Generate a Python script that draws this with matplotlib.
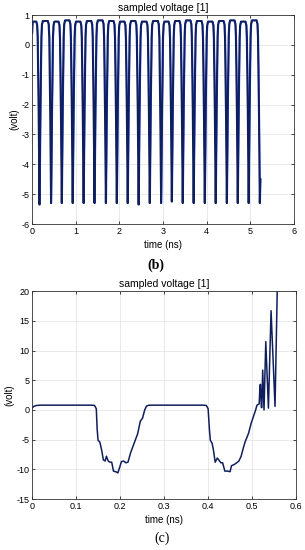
import numpy as np
import matplotlib.pyplot as plt

# (b) square-ish pulse train: times of the downward spikes (ns) and their minima (volt)
spike_t = [0.17, 0.435, 0.68, 0.93, 1.18, 1.43, 1.69, 1.94, 2.19, 2.44, 2.695,
           2.955, 3.20, 3.45, 3.70, 3.955, 4.205, 4.46, 4.71, 4.96, 5.215]
spike_v = [-5.35, -5.3, -5.3, -5.3, -5.3, -5.3, -5.3, -5.3, -5.3, -5.35, -5.3,
           -5.3, -5.25, -5.3, -5.3, -5.3, -5.3, -5.3, -5.3, -5.3, -5.3]
top_v = [0.78, 0.8, 0.78, 0.82, 0.78, 0.8, 0.82, 0.8, 0.78, 0.8, 0.78,
         0.8, 0.78, 0.8, 0.82, 0.8, 0.78, 0.8, 0.82, 0.78, 0.82, 0.8]
# shape of one dip: (offset from spike in ns, volt)
dip_dt = [-0.075, -0.055, -0.042, -0.02, 0.0, 0.02, 0.042, 0.055, 0.075]
dip_dv = [0.0, -0.12, -0.55, -3.0, None, -3.0, -0.55, -0.12, 0.0]

# (c) zoomed sampled voltage
t_c = [0.0, 0.004, 0.01, 0.02, 0.135, 0.142, 0.146, 0.148, 0.150, 0.154, 0.158,
       0.162, 0.166, 0.169, 0.173, 0.177, 0.181, 0.185, 0.190, 0.195, 0.199,
       0.203, 0.208, 0.213, 0.218, 0.224, 0.232, 0.240, 0.246, 0.251, 0.256,
       0.260, 0.266, 0.39, 0.396, 0.400, 0.403, 0.405, 0.409, 0.412, 0.416,
       0.421, 0.424, 0.429, 0.433, 0.438, 0.444, 0.450, 0.453, 0.459, 0.465,
       0.470, 0.475, 0.480, 0.484, 0.492, 0.498, 0.503, 0.508, 0.511, 0.516,
       0.518, 0.519, 0.521, 0.522, 0.524, 0.527, 0.531, 0.537, 0.543, 0.552,
       0.557, 0.559]
v_c = [0.3, 0.6, 0.75, 0.8, 0.8, 0.75, 0.2, -3.3, -5.1, -5.4, -6.7,
       -8.4, -8.6, -7.8, -8.6, -8.8, -8.8, -10.3, -10.4, -10.6, -9.7,
       -8.7, -8.6, -8.9, -8.8, -7.2, -5.6, -4.0, -1.9, -1.4, 0.0,
       0.65, 0.8, 0.8, 0.75, 0.2, -3.3, -5.1, -5.6, -6.7, -8.8,
       -8.1, -8.4, -8.9, -8.9, -10.3, -10.3, -10.4, -9.4, -9.2, -8.9,
       -8.6, -7.8, -6.4, -5.4, -3.9, -2.2, -1.1, 0.0, 0.8, 1.0,
       4.2, 4.3, 0.4, 0.4, 6.7, 0.0, 11.5, 0.3, 16.7, 0.6,
       20.0, 22.0]

navy = '#0f1f5c'
blue = '#1a3cf0'

# build the (b) trace from the read spikes
tb = [0.0, 0.006, 0.015]
vb = [0.4, 0.65, top_v[0]]
for i, (ts, vs) in enumerate(zip(spike_t, spike_v)):
    for dt, dv in zip(dip_dt, dip_dv):
        if i == len(spike_t) - 1 and dt > 0.01:
            tb.append(ts + 0.012)
            vb.append(-4.5)
            break
        tb.append(ts + dt)
        if dv is None:
            vb.append(vs)
        elif dt < 0:
            vb.append(top_v[i] + dv)
        else:
            vb.append(top_v[i + 1] + dv)
tb = np.array(tb)
vb = np.array(vb)

plt.rcParams['font.family'] = ['Liberation Sans', 'DejaVu Sans']
plt.rcParams['axes.unicode_minus'] = False
fig = plt.figure(figsize=(3.05, 5.5), dpi=100)

def style(ax):
    ax.grid(True, color='#e0e0e0', lw=0.5)
    ax.set_axisbelow(True)
    ax.tick_params(direction='in', length=2.5, width=0.5, labelsize=6.5,
                   top=True, right=True, pad=2)
    for s in ax.spines.values():
        s.set_linewidth(0.6)
        s.set_color('#333333')
    ax.set_title('sampled voltage [1]', fontsize=7.5, pad=3)
    ax.set_xlabel('time (ns)', fontsize=7, labelpad=3)
    ax.set_ylabel('(volt)', fontsize=7, labelpad=1)

ax1 = fig.add_axes([0.105, 0.5927, 0.859, 0.38])
ax1.plot(tb + 0.01, vb, color=blue, lw=1.1)
ax1.plot(tb, vb, color=navy, lw=1.4)
ax1.set_xlim(0, 6)
ax1.set_ylim(-6, 1)
ax1.set_yticks(range(-6, 2))
style(ax1)

ax2 = fig.add_axes([0.105, 0.0927, 0.866, 0.378])
ax2.plot(t_c, v_c, color=navy, lw=1.1)
ax2.set_xlim(0, 0.6)
ax2.set_ylim(-15, 20)
ax2.set_xticks([0, 0.1, 0.2, 0.3, 0.4, 0.5, 0.6])
ax2.set_xticklabels(['0', '0.1', '0.2', '0.3', '0.4', '0.5', '0.6'])
style(ax2)

fig.text(0.51, 1 - 265 / 550, '(b)', ha='center', va='center', fontsize=10,
         family=['Liberation Serif', 'DejaVu Serif'], fontweight='bold')
fig.text(0.53, 1 - 538 / 550, '(c)', ha='center', va='center', fontsize=10,
         family=['Liberation Serif', 'DejaVu Serif'])

fig.savefig('out.png', dpi=100)
